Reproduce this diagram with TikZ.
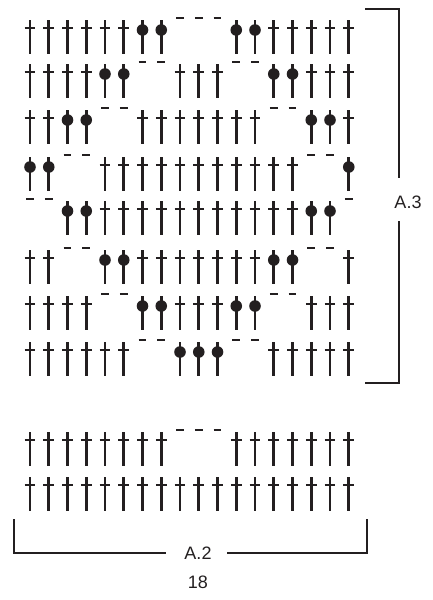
\documentclass[tikz,border=0pt]{standalone}
\usepackage{fontspec}
\setmainfont{Liberation Sans}
\usetikzlibrary{positioning}
\definecolor{ink}{RGB}{35,31,32}

\tikzset{
  stitch/.style={ink, line width=2.6pt},
  chainmark/.style={ink, line width=2.6pt},
  bracket/.style={ink, line width=2pt},
  chartlabel/.style={font=\fontsize{18}{21}\selectfont, text=ink, inner sep=1pt}
}

% one chart row: #1 = top of the stems, #2 = symbols (T treble, B bobble, C chain)
\newcommand{\chartrow}[2]{%
  \foreach \s [count=\c] in {#2} {%
    \pgfmathsetmacro{\cx}{30+18.75*(\c-1)}%
    \if\s C
      \draw[chainmark] (\cx-3.8,#1-2) -- (\cx+3.8,#1-2);
    \else
      \draw[stitch] (\cx,#1) -- (\cx,#1+34);
      \if\s B
        \fill[ink] (\cx,#1+10) circle (5.8pt);
      \else
        \draw[stitch] (\cx-5.4,#1+8) -- (\cx+5.4,#1+8);
      \fi
    \fi
  }%
}

\begin{document}
\begin{tikzpicture}[x=1pt, y=-1pt]
\useasboundingbox (0,0) rectangle (432,600);

% A.3 chart
\chartrow{20}{T,T,T,T,T,T,B,B,C,C,C,B,B,T,T,T,T,T}
\chartrow{64}{T,T,T,T,B,B,C,C,T,T,T,C,C,B,B,T,T,T}
\chartrow{110}{T,T,B,B,C,C,T,T,T,T,T,T,T,C,C,B,B,T}
\chartrow{157}{B,B,C,C,T,T,T,T,T,T,T,T,T,T,T,C,C,B}
\chartrow{201}{C,C,B,B,T,T,T,T,T,T,T,T,T,T,T,B,B,C}
\chartrow{250}{T,T,C,C,B,B,T,T,T,T,T,T,T,B,B,C,C,T}
\chartrow{296}{T,T,T,T,C,C,B,B,T,T,T,B,B,C,C,T,T,T}
\chartrow{342}{T,T,T,T,T,T,C,C,B,B,B,C,C,T,T,T,T,T}

% A.2 chart
\chartrow{432}{T,T,T,T,T,T,T,T,C,C,C,T,T,T,T,T,T,T}
\chartrow{477}{T,T,T,T,T,T,T,T,T,T,T,T,T,T,T,T,T,T}

% A.3 bracket
\node[chartlabel] (a3lab) at (408,202) {A.3};
\coordinate (a3top) at (365,9);
\coordinate (a3bot) at (365,383);
\draw[bracket] (a3top) -- (399,9) -- (399,178);
\draw[bracket] (399,221) -- (399,383) -- (a3bot);

% A.2 bracket
\node[chartlabel] (a2lab) at (198,553) {A.2};
\node[chartlabel] (a2count) at (198,582) {18};
\coordinate (a2left) at (14,519);
\coordinate (a2right) at (367,519);
\draw[bracket] (a2left) -- (14,553) -- (166,553);
\draw[bracket] (227,553) -- (367,553) -- (a2right);

\end{tikzpicture}
\end{document}
